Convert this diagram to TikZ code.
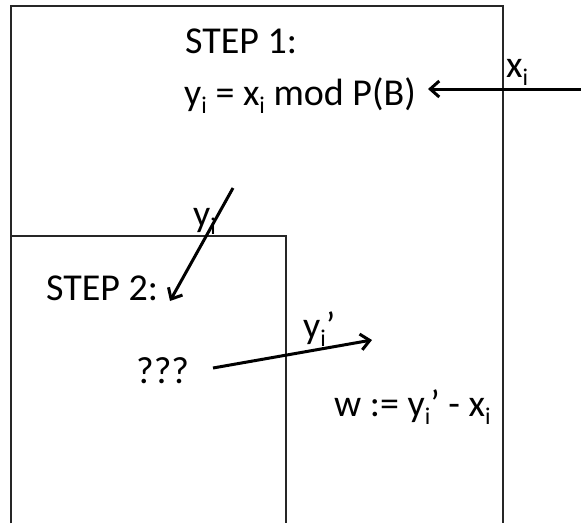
\documentclass[tikz,border=0pt]{standalone}
\usepackage{fontspec}
\setmainfont{Carlito}
\usetikzlibrary{arrows.meta}
\newcommand\sbi{\raisebox{-0.22em}{\fontsize{24}{24}\selectfont i}}
\tikzset{
  lbl/.style={anchor=base west,inner sep=0pt,font=\fontsize{38}{40}\selectfont},
  box/.style={line width=1.4pt,draw=black!85},
  arr/.style={line width=3pt,-{Straight Barb[length=9pt,width=16pt]}},
}
\begin{document}
\begin{tikzpicture}[x=1pt,y=-1pt]
\useasboundingbox (0,0) rectangle (581,523);
\draw[box] (11,523) -- (11,6) -- (503,6) -- (503,523);
\draw[box] (11,523) -- (11,236) -- (286,236) -- (286,523);
\node[lbl] (s1) at (185,53) {STEP 1:};
\node[lbl] (f1) at (184,105) {y\sbi{} = x\sbi{} mod P(B)};
\node[lbl] (xl) at (506,77) {x\sbi};
\coordinate (xin) at (581,89);
\coordinate (xtip) at (428,89);
\draw[arr] (xin) -- (xtip);
\node[lbl] (yl) at (193,226) {y\sbi};
\coordinate (ya) at (233,188);
\coordinate (yb) at (170,301);
\draw[arr] (ya) -- (yb);
\node[lbl] (s2) at (46,300) {STEP 2:};
\node[lbl] (q) at (136,383) {???};
\node[lbl] (ypl) at (303,338) {y\sbi’};
\coordinate (qa) at (213,368);
\coordinate (wa) at (372,340);
\draw[arr] (qa) -- (wa);
\node[lbl] (w) at (334,416) {w := y\sbi’ - x\sbi};
\end{tikzpicture}
\end{document}
